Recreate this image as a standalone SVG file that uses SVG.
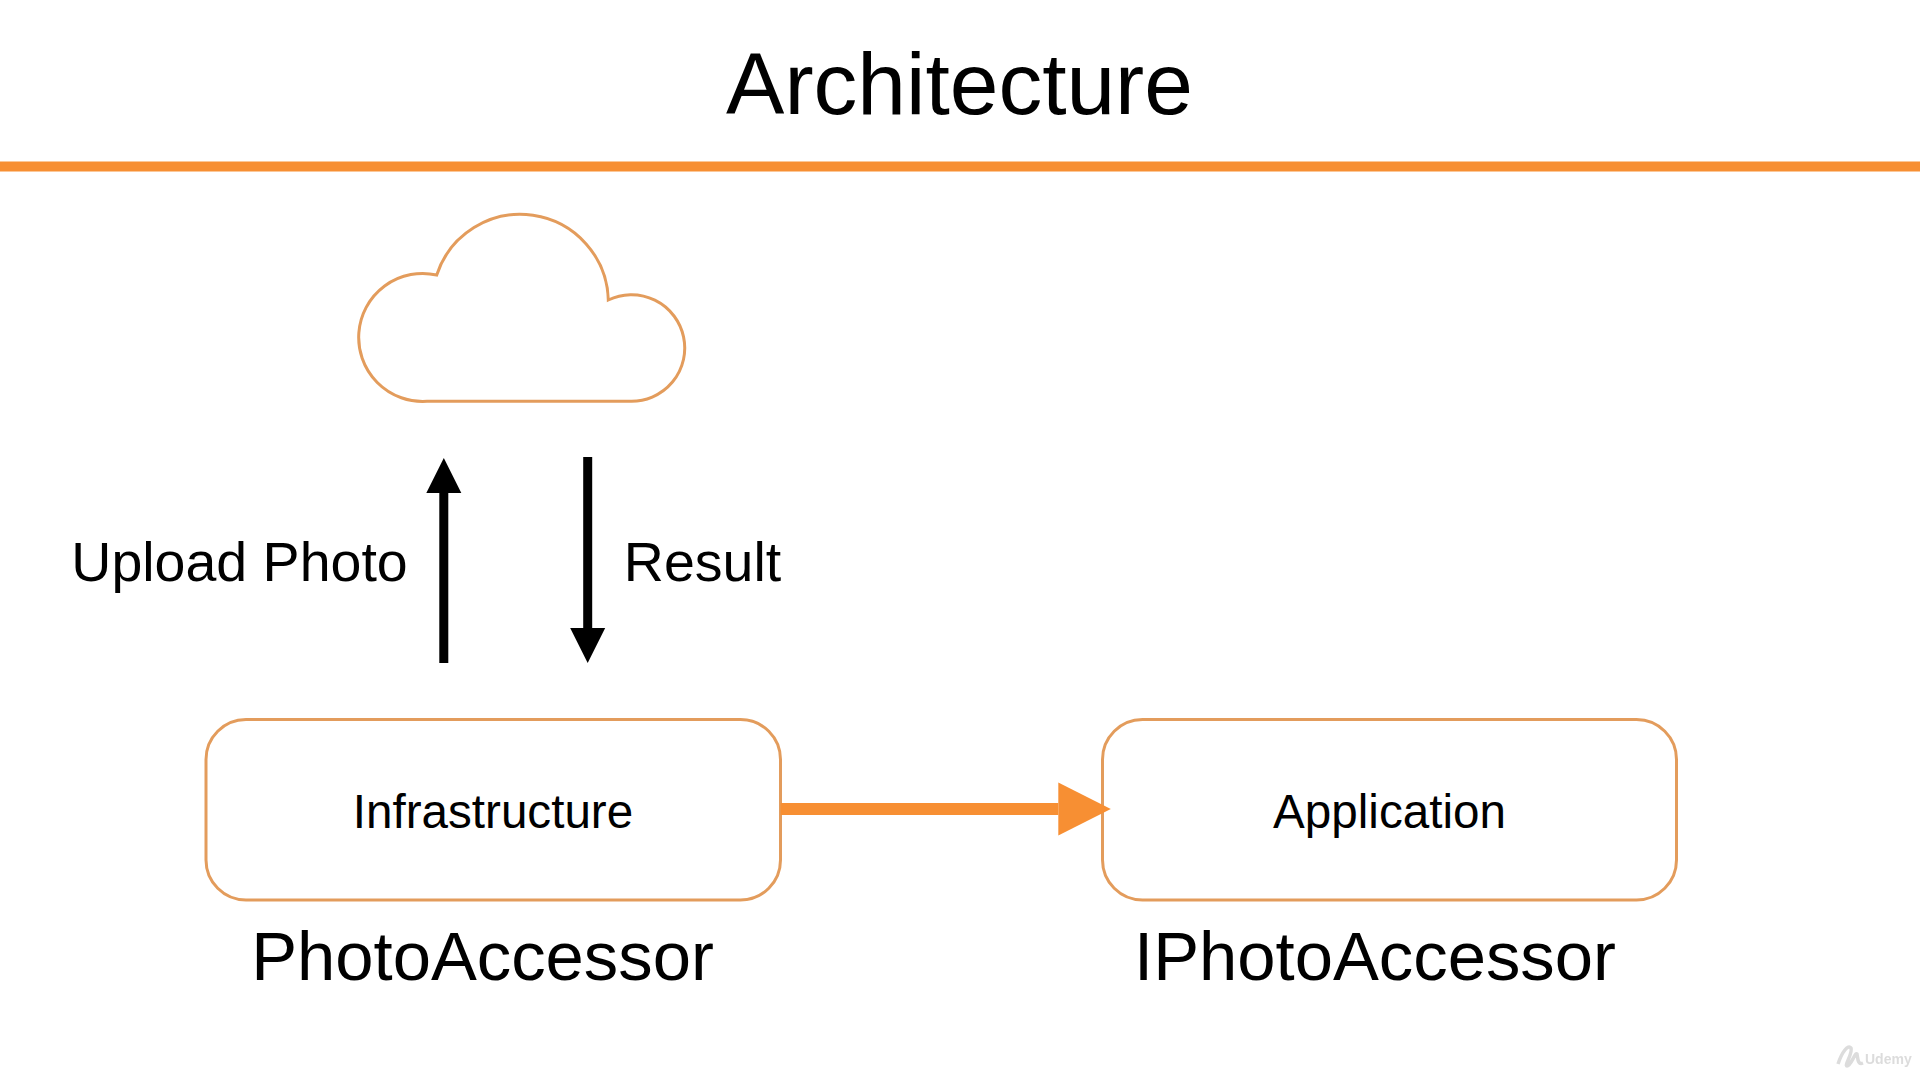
<svg xmlns="http://www.w3.org/2000/svg" width="1920" height="1080" viewBox="0 0 1920 1080">
<style>
text{font-family:"Liberation Sans",Arial,sans-serif;fill:#000;text-anchor:middle}
.outline{fill:#fff;stroke:#E39C5C;stroke-width:3}
.title{font-size:87.5px}
.label{font-size:55.5px}
.inner{font-size:47.6px}
.name{font-size:68.8px}
.thin{fill:none;stroke:#000;stroke-width:9}
.thick{fill:none;stroke:#F78F33;stroke-width:12}
.wm{font-size:14px;font-weight:bold;fill:#dcdcdc;text-anchor:start}
</style>
<defs>
<marker id="blackHead" markerUnits="userSpaceOnUse" markerWidth="36" markerHeight="36" viewBox="0 0 36 36" refX="0" refY="18" orient="auto"><path d="M0 0.5L35 18L0 35.5Z" fill="#000"/></marker>
<marker id="orangeHead" markerUnits="userSpaceOnUse" markerWidth="53" markerHeight="54" viewBox="0 0 53 54" refX="0" refY="27" orient="auto"><path d="M0 0.5L52.5 27L0 53.5Z" fill="#F78F33"/></marker>
<filter id="soft" x="-20%" y="-20%" width="140%" height="140%"><feGaussianBlur stdDeviation="0.7"/></filter>
</defs>
<rect width="1920" height="1080" fill="#fff"/>
<g id="header">
<text class="title" x="959.5" y="114">Architecture</text>
<rect x="0" y="161.500" width="1920" height="10" fill="#F78F33"/>
</g>
<g id="cloud">
<path class="outline" d="M427 401.300A64 64 0 1 1 436.700 275A88 88 0 0 1 608.300 300A53.300 53.300 0 1 1 630 401.300Z"/>
</g>
<g id="infrastructure">
<rect class="outline" x="206" y="719.500" width="574.500" height="180.500" rx="40" ry="40"/>
<text class="inner" x="493" y="827.500">Infrastructure</text>
</g>
<g id="application">
<rect class="outline" x="1102.500" y="719.500" width="574" height="180.500" rx="40" ry="40"/>
<text class="inner" x="1389.500" y="827.500">Application</text>
</g>
<g id="connectors">
<line class="thin" x1="443.800" y1="663" x2="443.800" y2="493" marker-end="url(#blackHead)"/>
<line class="thin" x1="587.700" y1="457" x2="587.700" y2="628" marker-end="url(#blackHead)"/>
<line class="thick" x1="780.500" y1="809" x2="1058.300" y2="809" marker-end="url(#orangeHead)"/>
</g>
<g id="labels">
<text class="label" x="239.500" y="581">Upload Photo</text>
<text class="label" x="702.500" y="581">Result</text>
<text class="name" x="482.500" y="979.500">PhotoAccessor</text>
<text class="name" x="1375" y="979.500">IPhotoAccessor</text>
</g>
<g id="watermark" filter="url(#soft)">
<path d="M1838 1064C1842 1052 1848 1044 1851 1048C1853 1053 1844 1066 1847 1066C1851 1066 1855 1052 1857 1054C1858 1060 1858 1065 1863 1063" fill="none" stroke="#dcdcdc" stroke-width="3.500"/>
<text class="wm" x="1865" y="1064">Udemy</text>
</g>
</svg>
